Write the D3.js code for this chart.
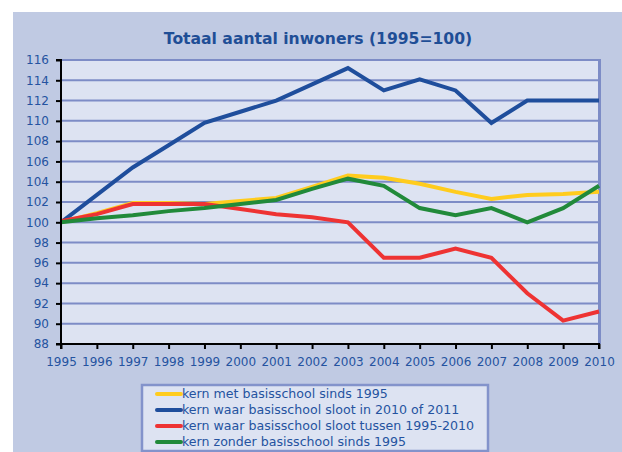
<!DOCTYPE html>
<html><head><meta charset="utf-8">
<script src="https://cdn.jsdelivr.net/npm/d3@7"></script>
<style>html,body{margin:0;padding:0;background:#fff;}svg{display:block;}</style>
</head><body>
<script>
const years = [1995,1996,1997,1998,1999,2000,2001,2002,2003,2004,2005,2006,2007,2008,2009,2010];
const yTicks = [88,90,92,94,96,98,100,102,104,106,108,110,112,114,116];
const seriesNames = ["kern met basisschool sinds 1995","kern waar basisschool sloot in 2010 of 2011","kern waar basisschool sloot tussen 1995-2010","kern zonder basisschool sinds 1995"];
const seriesColors = ["#ffcc1e","#1f4e9c","#ee3333","#218a3a"];
const yellow = [100,100.9,101.9,101.9,101.8,102.1,102.4,103.5,104.6,104.4,103.8,103.0,102.3,102.7,102.8,103.0];
const blue   = [100,102.7,105.4,107.6,109.8,110.9,112.0,113.6,115.2,113.0,114.1,113.0,109.8,112.0,112.0,112.0];
const red    = [100.1,100.8,101.8,101.8,101.8,101.3,100.8,100.5,100.0,96.5,96.5,97.4,96.5,93.0,90.3,91.2];
const green  = [100,100.4,100.7,101.1,101.4,101.8,102.2,103.3,104.3,103.6,101.4,100.7,101.4,100.0,101.4,103.6];
const seriesValues = [yellow, blue, red, green];
const title = "Totaal aantal inwoners (1995=100)";

const W = 622, H = 452;
const svg = d3.select("body").append("svg").attr("width", W).attr("height", H);
const font = "'DejaVu Sans', Verdana, sans-serif";
const textColor = "#2553a0";

svg.append("rect").attr("x",13).attr("y",12).attr("width",W-13).attr("height",H-12).attr("fill","#c0cae3");

const L = 61, R = 599, T = 60, B = 344;
const x = d3.scaleLinear().domain([1995,2010]).range([L,R]);
const y = d3.scaleLinear().domain([88,116]).range([B,T]);

svg.append("rect").attr("x",L).attr("y",T).attr("width",R-L).attr("height",B-T).attr("fill","#dde3f2");

// gridlines
svg.append("g").selectAll("line").data(yTicks.filter(d=>d>88)).join("line")
  .attr("x1",L).attr("x2",R).attr("y1",d=>y(d)).attr("y2",d=>y(d))
  .attr("stroke","#7d8cc6").attr("stroke-width",2);
// right border
svg.append("line").attr("x1",R+0.5).attr("x2",R+0.5).attr("y1",T-1).attr("y2",B)
  .attr("stroke","#7d8cc6").attr("stroke-width",3);

// title
svg.append("text").attr("x",318).attr("y",44).attr("text-anchor","middle")
  .attr("font-family",font).attr("font-weight","bold").attr("font-size","15.6px")
  .attr("fill","#1f4e96").text(title);

// lines
const line = d3.line().x((d,i)=>x(years[i])).y(d=>y(d));
svg.append("g").selectAll("path").data(seriesValues).join("path")
  .attr("d", d=>line(d)).attr("fill","none")
  .attr("stroke",(d,i)=>seriesColors[i]).attr("stroke-width",4)
  .attr("stroke-linejoin","miter");

// axes
const yAxis = d3.axisLeft(y).tickValues(yTicks).tickSize(5).tickPadding(7).tickFormat(d3.format("d"));
const gy = svg.append("g").attr("transform",`translate(${L},0)`).call(yAxis);
const xAxis = d3.axisBottom(x).tickValues(years).tickSize(5).tickPadding(8).tickFormat(d3.format("d"));
const gx = svg.append("g").attr("transform",`translate(0,${B})`).call(xAxis);
[gx,gy].forEach(g=>{
  g.select(".domain").attr("stroke","#000").attr("stroke-width",2);
  g.selectAll(".tick line").attr("stroke","#000").attr("stroke-width",2);
  g.selectAll("text").attr("font-family",font).attr("font-size","12px").attr("fill",textColor);
});
gy.select(".domain").attr("d",`M-5,${T}H0V${B}H-5`);
gx.select(".domain").attr("d",`M${L},5V0H${R}V5`);

// legend
const lg = svg.append("g");
lg.append("rect").attr("x",142).attr("y",385).attr("width",346).attr("height",66)
  .attr("fill","#dde3f2").attr("stroke","#8393cb").attr("stroke-width",2.5);
const rows = lg.selectAll("g.row").data(seriesNames).join("g").attr("class","row")
  .attr("transform",(d,i)=>`translate(0,${398+i*16})`);
rows.append("line").attr("x1",157).attr("x2",181).attr("y1",-4).attr("y2",-4)
  .attr("stroke",(d,i)=>seriesColors[i]).attr("stroke-width",4).attr("stroke-linecap","round");
rows.append("text").attr("x",182).attr("y",0).attr("font-family",font).attr("font-size","12.6px")
  .attr("fill",textColor).text(d=>d);
</script>
</body></html>
